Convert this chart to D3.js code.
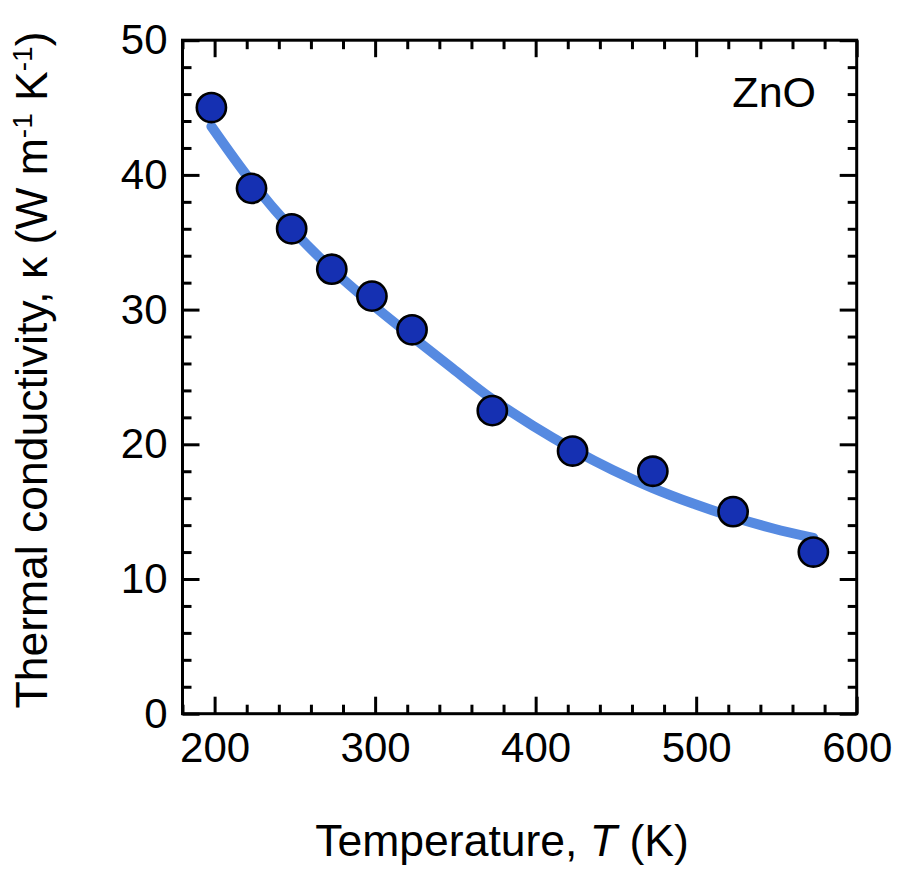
<!DOCTYPE html>
<html>
<head>
<meta charset="utf-8">
<script src="https://cdn.jsdelivr.net/npm/d3@7"></script>
<style>
  html, body { margin: 0; padding: 0; background: #fff; }
  svg { display: block; font-family: "Liberation Sans", Arial, sans-serif; }
</style>
</head>
<body>
<svg id="chart" width="901" height="873"></svg>
<script>
// ---- data ----
const temperatures = [198, 223, 248, 273, 298, 323, 373, 423, 473, 523, 573];
const conductivity = [45.0, 39.0, 36.0, 33.0, 31.0, 28.5, 22.5, 19.5, 18.0, 15.0, 12.0];
const fitT = [198, 223, 248, 273, 298, 323, 348, 373, 398, 423, 448, 473, 498, 523, 548, 573];
const fitK = [43.6, 39.5, 36.0, 33.0, 30.4, 28.0, 25.65, 23.35, 21.4, 19.65, 18.1, 16.75, 15.6, 14.6, 13.75, 13.05];
const xMajorTicks = [200, 300, 400, 500, 600];
const yMajorTicks = [0, 10, 20, 30, 40, 50];
const xDomain = [180, 600];
const yDomain = [0, 50];
const sampleLabel = "ZnO";

// ---- layout ----
const L = 182.5, R = 856.7, T = 40.2, B = 713.7;
const svg = d3.select("#chart");
const x = d3.scaleLinear().domain(xDomain).range([L, R]);
const y = d3.scaleLinear().domain(yDomain).range([B, T]);

const xMinor = d3.range(xDomain[0], xDomain[1] + 0.001, 20).filter(v => !xMajorTicks.includes(v));
const yMinor = d3.range(yDomain[0], yDomain[1] + 0.001, 2).filter(v => !yMajorTicks.includes(v));

const majorLen = 17, minorLen = 9, tickW = 3;
const tickFont = 42, titleFont = 44.5, labelFont = 43;

function styleAxis(g) {
  g.select(".domain").remove();
  g.selectAll(".tick line").attr("stroke", "#000").attr("stroke-width", tickW);
  g.selectAll(".tick text").attr("fill", "#000").style("font-size", tickFont + "px")
    .style("font-family", '"Liberation Sans", Arial, sans-serif');
}

// bottom
svg.append("g").attr("transform", `translate(0,${B})`)
  .call(d3.axisBottom(x).tickValues(xMajorTicks).tickSize(-majorLen).tickPadding(18).tickFormat(d3.format("d")))
  .call(styleAxis);
svg.append("g").attr("transform", `translate(0,${B})`)
  .call(d3.axisBottom(x).tickValues(xMinor).tickSize(-minorLen).tickFormat(""))
  .call(styleAxis);
// top
svg.append("g").attr("transform", `translate(0,${T})`)
  .call(d3.axisTop(x).tickValues(xMajorTicks).tickSize(-majorLen).tickFormat(""))
  .call(styleAxis);
svg.append("g").attr("transform", `translate(0,${T})`)
  .call(d3.axisTop(x).tickValues(xMinor).tickSize(-minorLen).tickFormat(""))
  .call(styleAxis);
// left
svg.append("g").attr("transform", `translate(${L},0)`)
  .call(d3.axisLeft(y).tickValues(yMajorTicks).tickSize(-majorLen).tickPadding(15).tickFormat(d3.format("d")))
  .call(styleAxis);
svg.append("g").attr("transform", `translate(${L},0)`)
  .call(d3.axisLeft(y).tickValues(yMinor).tickSize(-minorLen).tickFormat(""))
  .call(styleAxis);
// right
svg.append("g").attr("transform", `translate(${R},0)`)
  .call(d3.axisRight(y).tickValues(yMajorTicks).tickSize(-majorLen).tickFormat(""))
  .call(styleAxis);
svg.append("g").attr("transform", `translate(${R},0)`)
  .call(d3.axisRight(y).tickValues(yMinor).tickSize(-minorLen).tickFormat(""))
  .call(styleAxis);

// frame
svg.append("rect").attr("x", L).attr("y", T).attr("width", R - L).attr("height", B - T)
  .attr("fill", "none").attr("stroke", "#000").attr("stroke-width", 3);

// fit curve
const line = d3.line().x((d, i) => x(fitT[i])).y((d, i) => y(fitK[i])).curve(d3.curveCatmullRom.alpha(0.5));
svg.append("path").datum(fitK).attr("d", line)
  .attr("fill", "none").attr("stroke", "#568ae1").attr("stroke-width", 10)
  .attr("stroke-linecap", "round");

// points
svg.append("g").selectAll("circle").data(temperatures).join("circle")
  .attr("cx", d => x(d)).attr("cy", (d, i) => y(conductivity[i]))
  .attr("r", 14.6).attr("fill", "#1530b2").attr("stroke", "#000").attr("stroke-width", 2.6);

// label
svg.append("text").attr("x", 816).attr("y", 107).attr("text-anchor", "end")
  .style("font-size", labelFont + "px").attr("fill", "#000").text(sampleLabel);

// x title
const xt = svg.append("text").attr("x", 502).attr("y", 856).attr("text-anchor", "middle")
  .style("font-size", titleFont + "px").attr("fill", "#000");
xt.append("tspan").text("Temperature, ");
xt.append("tspan").style("font-style", "italic").text("T");
xt.append("tspan").text(" (K)");

// y title
const yt = svg.append("text").attr("transform", "translate(47,370) rotate(-90)")
  .attr("text-anchor", "middle").style("font-size", titleFont + "px").attr("fill", "#000");
yt.append("tspan").text("Thermal conductivity, κ (W m");
yt.append("tspan").attr("baseline-shift", "super").style("font-size", "28px").text("-1");
yt.append("tspan").text(" K");
yt.append("tspan").attr("baseline-shift", "super").style("font-size", "28px").text("-1");
yt.append("tspan").text(")");
</script>
</body>
</html>
